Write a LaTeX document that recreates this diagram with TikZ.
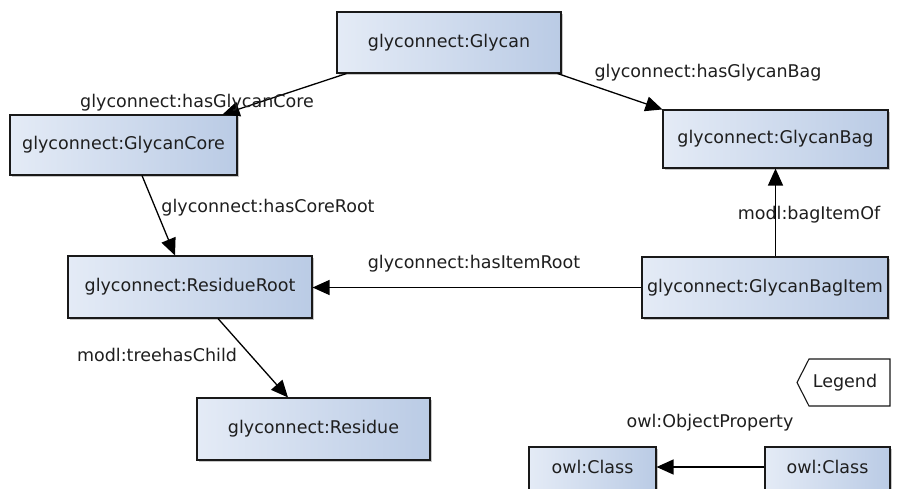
\documentclass[tikz,border=0pt]{standalone}
\usepackage{fontspec}
\setmainfont{DejaVu Sans}
\usetikzlibrary{arrows.meta,shadows,calc}
\definecolor{boxL}{RGB}{228,235,246}
\definecolor{boxR}{RGB}{186,203,229}
\definecolor{txt}{RGB}{30,30,30}
\tikzset{
  cls/.style={draw=black!90, line width=1.1pt, left color=boxL, right color=boxR,
    text=txt, inner sep=0pt, font=\fontsize{17.5}{20}\selectfont,
    drop shadow={shadow xshift=2pt, shadow yshift=-2pt, fill=black, opacity=0.22}},
  lbl/.style={text=txt, inner sep=0pt, font=\fontsize{17.5}{20}\selectfont},
  rel/.style={draw=black, line width=1.3pt, -{Triangle[length=17pt,width=15pt]}}
}
\begin{document}
\begin{tikzpicture}[x=1pt,y=-1pt]
\useasboundingbox (0,0) rectangle (909,489);
\clip (0,0) rectangle (909,489);
% class nodes
\node[cls, minimum width=224pt, minimum height=61pt] (glycan) at (449,42.5) {glyconnect:Glycan};
\node[cls, minimum width=227pt, minimum height=60pt] (core) at (123.5,145) {glyconnect:GlycanCore};
\node[cls, minimum width=225pt, minimum height=58pt] (bag) at (775.5,139) {glyconnect:GlycanBag};
\node[cls, minimum width=244pt, minimum height=62pt] (root) at (190,287) {glyconnect:ResidueRoot};
\node[cls, minimum width=246pt, minimum height=61pt] (item) at (765,287.5) {glyconnect:GlycanBagItem};
\node[cls, minimum width=233pt, minimum height=62pt] (residue) at (313.5,429) {glyconnect:Residue};
% legend
\node[cls, minimum width=127pt, minimum height=60pt] (owlA) at (592.5,477) {};
\node[lbl] (owlAt) at (592.5,467) {owl:Class};
\node[cls, minimum width=125pt, minimum height=60pt] (owlB) at (827.5,477) {};
\node[lbl] (owlBt) at (827.5,467) {owl:Class};
\draw[black!90, line width=1.1pt, fill=white] (797,382.5) -- (809,359) -- (890,359) -- (890,406) -- (809,406) -- cycle;
\node[lbl] (legend) at (845,383) {Legend};
% connectors
\draw[rel] ([xshift=10pt]glycan.south west) -- ([xshift=-15pt]core.north east);
\draw[rel] ([xshift=-4pt]glycan.south east) -- (bag.north west);
\draw[rel] ([xshift=18.5pt]core.south) -- ([xshift=-15pt]root.north);
\draw[rel] ([xshift=28pt]root.south) -- ([xshift=-25.5pt]residue.north);
\draw[rel] (item.west) -- (root.east |- item.west);
\draw[rel] (item.north -| bag.south) -- (bag.south);
\draw[rel] (owlB.west |- owlAt) -- (owlA.east |- owlAt);
% labels
\node[lbl] (l1) at (197,103) {glyconnect:hasGlycanCore};
\node[lbl] (l2) at (708,73) {glyconnect:hasGlycanBag};
\node[lbl] (l3) at (268,208) {glyconnect:hasCoreRoot};
\node[lbl] (l4) at (474,264) {glyconnect:hasItemRoot};
\node[lbl] (l5) at (809,215) {modl:bagItemOf};
\node[lbl] (l6) at (157,355) {modl:treehasChild};
\node[lbl] (l7) at (710,423) {owl:ObjectProperty};
\end{tikzpicture}
\end{document}
